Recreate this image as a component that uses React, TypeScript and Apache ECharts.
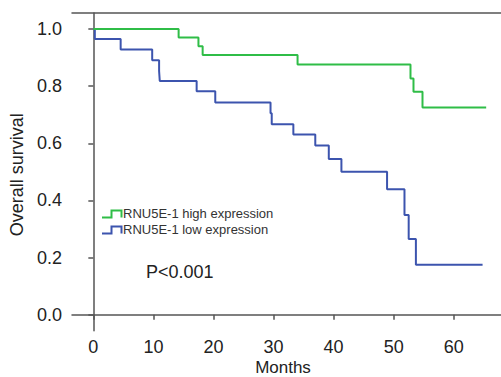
import React, { useEffect, useRef } from "react";
import * as echarts from "echarts";

const highTimes = [0, 14.2, 17.5, 18.2, 34.0, 52.8, 53.3, 54.8, 65.4];
const highSurv = [1.0, 0.97, 0.94, 0.909, 0.876, 0.827, 0.78, 0.725, 0.725];
const lowTimes = [0, 0.25, 4.55, 9.8, 10.95, 11.06, 17.2, 20.3, 29.5, 29.7, 33.3, 36.95, 39.2, 41.3, 48.9, 51.8, 52.5, 53.7, 64.8];
const lowSurv = [1.0, 0.965, 0.928, 0.891, 0.853, 0.818, 0.782, 0.743, 0.705, 0.667, 0.631, 0.592, 0.545, 0.5, 0.439, 0.349, 0.265, 0.175, 0.175];
const xTicks = [0, 10, 20, 30, 40, 50, 60];
const yTicks = [0, 0.2, 0.4, 0.6, 0.8, 1.0];
const seriesNames = ["RNU5E-1 high expression", "RNU5E-1 low expression"];
const pText = "P<0.001";

const GREEN = "#2fbd47";
const BLUE = "#3c54ae";
const AXIS = "#555555";
const FONT = "Liberation Sans, Arial, sans-serif";

export default function App() {
  const ref = useRef<HTMLDivElement>(null);
  useEffect(() => {
    if (!ref.current) return;
    const chart = echarts.init(ref.current, null, { renderer: "svg" });
    const toPairs = (t: number[], s: number[]) => t.map((v, i) => [v, s[i]]);
    const legendIcon = (y: number, color: string) => ({
      type: "polyline",
      shape: { points: [[102, y + 4], [111.5, y + 4], [111.5, y - 3], [121.5, y - 3], [121.5, y + 4]] },
      style: { stroke: color, lineWidth: 2, fill: null },
    });
    chart.setOption({
      animation: false,
      backgroundColor: "#ffffff",
      grid: { left: 72, right: -5, top: 13, bottom: 46.3, containLabel: false, outerBoundsMode: "none" },
      xAxis: [
        {
          type: "value",
          min: -3.55,
          max: 68.7,
          position: "bottom",
          splitLine: { show: false },
          axisLine: { show: true, lineStyle: { color: AXIS, width: 1.5 } },
          axisTick: { show: true, length: 5, customValues: xTicks, lineStyle: { color: AXIS, width: 1.5 } },
          axisLabel: { customValues: xTicks, color: "#222", fontSize: 18, fontFamily: FONT, margin: 7 },
          name: "Months",
          nameLocation: "middle",
          nameMoveOverlap: false,
          nameGap: 28,
          nameTextStyle: { color: "#222", fontSize: 17, fontFamily: FONT, padding: [0, 12, 0, 0] },
        },
        {
          type: "value",
          min: -3.55,
          max: 68.7,
          position: "top",
          splitLine: { show: false },
          axisLine: { show: true, lineStyle: { color: AXIS, width: 1.5 } },
          axisTick: { show: false },
          axisLabel: { show: false },
        },
      ],
      yAxis: {
        type: "value",
        min: -0.056,
        max: 1.056,
        splitLine: { show: false },
        axisLine: { show: true, lineStyle: { color: AXIS, width: 1.5 } },
        axisTick: { show: true, length: 5, customValues: yTicks, lineStyle: { color: AXIS, width: 1.5 } },
        axisLabel: {
          customValues: yTicks,
          color: "#222",
          fontSize: 18,
          fontFamily: FONT,
          margin: 10,
          formatter: (v: number) => v.toFixed(1),
        },
        name: "Overall survival",
        nameLocation: "middle",
        nameGap: 45,
        nameTextStyle: { color: "#222", fontSize: 18, fontFamily: FONT, padding: [0, 6, 0, 0] },
      },
      series: [
        {
          name: seriesNames[0],
          type: "line",
          step: "end",
          data: toPairs(highTimes, highSurv),
          showSymbol: false,
          lineStyle: { color: GREEN, width: 2 },
          itemStyle: { color: GREEN },
          z: 3,
        },
        {
          name: seriesNames[1],
          type: "line",
          step: "end",
          data: toPairs(lowTimes, lowSurv),
          showSymbol: false,
          lineStyle: { color: BLUE, width: 2 },
          itemStyle: { color: BLUE },
          z: 2,
        },
      ],
      graphic: [
        legendIcon(213.5, GREEN),
        legendIcon(229.5, BLUE),
        {
          type: "text",
          x: 123,
          y: 213.5,
          style: { text: seriesNames[0], fill: "#333", font: `13px ${FONT}`, verticalAlign: "middle" },
        },
        {
          type: "text",
          x: 123,
          y: 229.5,
          style: { text: seriesNames[1], fill: "#333", font: `13px ${FONT}`, verticalAlign: "middle" },
        },
        {
          type: "text",
          x: 146,
          y: 271.5,
          style: { text: pText, fill: "#222", font: `18px ${FONT}`, verticalAlign: "middle" },
        },
      ],
    });
    return () => chart.dispose();
  }, []);
  return <div ref={ref} style={{ width: 501, height: 377, position: "fixed", left: 0, top: 0 }} />;
}
